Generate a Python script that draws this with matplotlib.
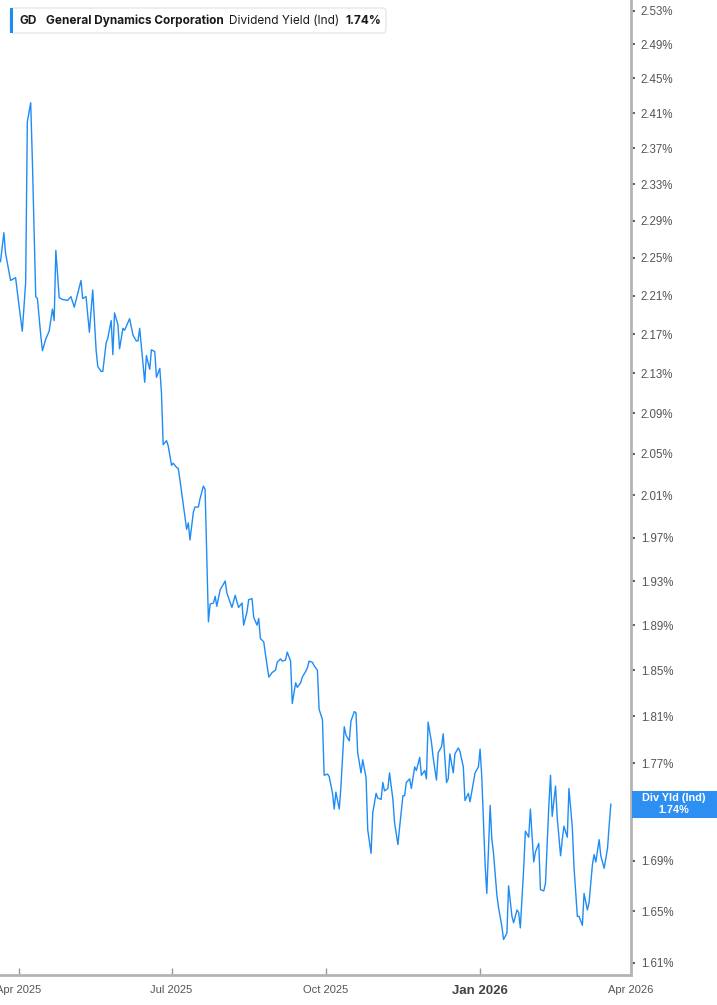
import pandas as pd
import matplotlib.pyplot as plt
import matplotlib.transforms as mtransforms
from matplotlib.patches import FancyBboxPatch, Rectangle
from matplotlib.ticker import FixedLocator, FuncFormatter, NullLocator

plt.rcParams['font.family'] = ['Liberation Sans', 'DejaVu Sans']

ticker = 'GD'
company = 'General Dynamics Corporation'
metric = 'Dividend Yield (Ind)'
last_label = '1.74%'
tag_label = 'Div Yld (Ind)'

dates = [
    '2025-03-21', '2025-03-23', '2025-03-24', '2025-03-27', '2025-03-30', '2025-04-01', '2025-04-03', '2025-04-05',
    '2025-04-06', '2025-04-08', '2025-04-09', '2025-04-11', '2025-04-12', '2025-04-14', '2025-04-15', '2025-04-17',
    '2025-04-19', '2025-04-21', '2025-04-22', '2025-04-23', '2025-04-25', '2025-04-27', '2025-04-30', '2025-05-02',
    '2025-05-04', '2025-05-08', '2025-05-09', '2025-05-11', '2025-05-13', '2025-05-15', '2025-05-17', '2025-05-18',
    '2025-05-20', '2025-05-21', '2025-05-23', '2025-05-24', '2025-05-26', '2025-05-27', '2025-05-28', '2025-05-30',
    '2025-05-31', '2025-06-02', '2025-06-03', '2025-06-06', '2025-06-08', '2025-06-10', '2025-06-11', '2025-06-12',
    '2025-06-15', '2025-06-16', '2025-06-18', '2025-06-19', '2025-06-21', '2025-06-22', '2025-06-24', '2025-06-25',
    '2025-06-26', '2025-06-28', '2025-06-29', '2025-07-01', '2025-07-02', '2025-07-04', '2025-07-05', '2025-07-06',
    '2025-07-08', '2025-07-10', '2025-07-11', '2025-07-12', '2025-07-14', '2025-07-15', '2025-07-17', '2025-07-18',
    '2025-07-20', '2025-07-21', '2025-07-23', '2025-07-24', '2025-07-26', '2025-07-27', '2025-07-28', '2025-07-30',
    '2025-08-02', '2025-08-03', '2025-08-06', '2025-08-08', '2025-08-09', '2025-08-10', '2025-08-12', '2025-08-13',
    '2025-08-15', '2025-08-16', '2025-08-18', '2025-08-19', '2025-08-21', '2025-08-22', '2025-08-23', '2025-08-25',
    '2025-08-26', '2025-08-28', '2025-08-30', '2025-09-01', '2025-09-02', '2025-09-04', '2025-09-05', '2025-09-07',
    '2025-09-08', '2025-09-10', '2025-09-11', '2025-09-13', '2025-09-14', '2025-09-16', '2025-09-17', '2025-09-19',
    '2025-09-20', '2025-09-21', '2025-09-23', '2025-09-24', '2025-09-26', '2025-09-27', '2025-09-29', '2025-09-30',
    '2025-10-02', '2025-10-03', '2025-10-05', '2025-10-06', '2025-10-07', '2025-10-09', '2025-10-10', '2025-10-12',
    '2025-10-13', '2025-10-15', '2025-10-16', '2025-10-18', '2025-10-19', '2025-10-20', '2025-10-22', '2025-10-23',
    '2025-10-25', '2025-10-26', '2025-10-28', '2025-10-29', '2025-10-31', '2025-11-01', '2025-11-03', '2025-11-04',
    '2025-11-05', '2025-11-07', '2025-11-08', '2025-11-10', '2025-11-11', '2025-11-13', '2025-11-14', '2025-11-16',
    '2025-11-17', '2025-11-18', '2025-11-20', '2025-11-21', '2025-11-23', '2025-11-24', '2025-11-26', '2025-11-27',
    '2025-11-29', '2025-11-30', '2025-12-01', '2025-12-03', '2025-12-04', '2025-12-06', '2025-12-07', '2025-12-09',
    '2025-12-10', '2025-12-12', '2025-12-13', '2025-12-14', '2025-12-16', '2025-12-17', '2025-12-19', '2025-12-20',
    '2025-12-22', '2025-12-23', '2025-12-25', '2025-12-26', '2025-12-28', '2025-12-29', '2025-12-31', '2026-01-01',
    '2026-01-02', '2026-01-04', '2026-01-05', '2026-01-07', '2026-01-08', '2026-01-09', '2026-01-11', '2026-01-12',
    '2026-01-14', '2026-01-15', '2026-01-17', '2026-01-18', '2026-01-20', '2026-01-21', '2026-01-23', '2026-01-24',
    '2026-01-25', '2026-01-27', '2026-01-28', '2026-01-30', '2026-01-31', '2026-02-02', '2026-02-03', '2026-02-05',
    '2026-02-06', '2026-02-08', '2026-02-09', '2026-02-11', '2026-02-12', '2026-02-13', '2026-02-15', '2026-02-16',
    '2026-02-18', '2026-02-19', '2026-02-20', '2026-02-22', '2026-02-23', '2026-02-25', '2026-02-26', '2026-02-28',
    '2026-03-01', '2026-03-03', '2026-03-04', '2026-03-06', '2026-03-07', '2026-03-09', '2026-03-10', '2026-03-11',
    '2026-03-13', '2026-03-14', '2026-03-16', '2026-03-18', '2026-03-19', '2026-03-20',
]

div_yield = [
    2.246, 2.277, 2.255, 2.226, 2.229, 2.200, 2.173, 2.224,
    2.400, 2.422, 2.357, 2.209, 2.207, 2.169, 2.153, 2.165,
    2.173, 2.196, 2.184, 2.258, 2.208, 2.206, 2.205, 2.209,
    2.198, 2.226, 2.207, 2.209, 2.172, 2.216, 2.154, 2.137,
    2.132, 2.132, 2.161, 2.166, 2.184, 2.149, 2.192, 2.180,
    2.155, 2.176, 2.174, 2.186, 2.169, 2.163, 2.163, 2.176,
    2.121, 2.148, 2.134, 2.154, 2.152, 2.126, 2.135, 2.110,
    2.059, 2.063, 2.058, 2.039, 2.041, 2.037, 2.036, 2.025,
    2.001, 1.978, 1.984, 1.968, 1.994, 1.999, 1.999, 2.007,
    2.019, 2.016, 1.893, 1.909, 1.910, 1.916, 1.907, 1.922,
    1.930, 1.919, 1.906, 1.917, 1.911, 1.906, 1.910, 1.890,
    1.902, 1.913, 1.914, 1.897, 1.890, 1.896, 1.878, 1.875,
    1.864, 1.844, 1.848, 1.850, 1.857, 1.860, 1.858, 1.859,
    1.866, 1.858, 1.821, 1.839, 1.835, 1.839, 1.844, 1.849,
    1.852, 1.858, 1.857, 1.854, 1.850, 1.816, 1.807, 1.760,
    1.761, 1.759, 1.745, 1.732, 1.746, 1.732, 1.750, 1.801,
    1.794, 1.789, 1.806, 1.814, 1.813, 1.779, 1.762, 1.773,
    1.758, 1.715, 1.696, 1.729, 1.745, 1.741, 1.740, 1.754,
    1.747, 1.749, 1.762, 1.740, 1.721, 1.703, 1.717, 1.743,
    1.743, 1.754, 1.757, 1.749, 1.767, 1.764, 1.775, 1.760,
    1.764, 1.757, 1.805, 1.788, 1.775, 1.756, 1.779, 1.784,
    1.795, 1.754, 1.757, 1.778, 1.762, 1.778, 1.783, 1.780,
    1.767, 1.739, 1.745, 1.738, 1.754, 1.762, 1.767, 1.782,
    1.759, 1.687, 1.664, 1.735, 1.708, 1.696, 1.663, 1.653,
    1.638, 1.628, 1.633, 1.670, 1.646, 1.641, 1.651, 1.649,
    1.637, 1.684, 1.714, 1.709, 1.732, 1.689, 1.697, 1.704,
    1.667, 1.666, 1.672, 1.735, 1.760, 1.726, 1.751, 1.725,
    1.694, 1.707, 1.718, 1.709, 1.749, 1.717, 1.685, 1.646,
    1.646, 1.639, 1.664, 1.651, 1.657, 1.687, 1.695, 1.689,
    1.707, 1.694, 1.684, 1.700, 1.719, 1.736,
]

tick_dates = ['2025-04-01', '2025-07-01', '2025-10-01', '2026-01-01', '2026-04-01']
tick_labels = ['Apr 2025', 'Jul 2025', 'Oct 2025', 'Jan 2026', 'Apr 2026']
y_ticks = [1.61, 1.65, 1.69, 1.73, 1.77, 1.81, 1.85, 1.89, 1.93, 1.97, 2.01, 2.05,
           2.09, 2.13, 2.17, 2.21, 2.25, 2.29, 2.33, 2.37, 2.41, 2.45, 2.49, 2.53]

LINE = '#1e8cf5'
TAG = '#2e8ff2'
AXIS = '#b4b4b4'
TXT = '#555555'


def header(fig):
    # legend-like header box in the top-left corner (pixel coords)
    W, H = fig.bbox.width, fig.bbox.height
    box = FancyBboxPatch((10 / W, 1 - 33 / H), 376 / W, 25 / H,
                         boxstyle='round,pad=0,rounding_size=0.004',
                         transform=fig.transFigure, facecolor='white',
                         edgecolor='#e2e2e2', linewidth=0.8, zorder=5)
    fig.patches.append(box)
    bar = Rectangle((10 / W, 1 - 33 / H), 3 / W, 25 / H, transform=fig.transFigure,
                    facecolor=LINE, edgecolor='none', zorder=6)
    fig.patches.append(bar)
    yy = 1 - 21 / H
    for x, t, w in [(20, ticker, 'bold'), (46, company, 'bold'),
                    (229, metric, 'normal'), (345, last_label, 'bold')]:
        fig.text(x / W, yy, t, fontsize=8.5, fontweight=w, color='#1a1a1a',
                 family=['Inter', 'DejaVu Sans'], va='center', ha='left', zorder=7)


def main():
    d = pd.to_datetime(dates)
    fig = plt.figure(figsize=(7.17, 10.05), dpi=100)
    ax = fig.add_axes([0, 30 / 1005, 631 / 717, 975 / 1005])

    ax.plot(d, div_yield, color=LINE, lw=1.0)

    ax.set_yscale('log')
    ax.set_ylim(1.6008, 2.543)
    ax.set_xlim(pd.Timestamp('2025-04-01') - pd.Timedelta(days=11.3), pd.Timestamp('2026-04-01'))

    ax.yaxis.tick_right()
    ax.yaxis.set_major_locator(FixedLocator(y_ticks))
    ax.yaxis.set_minor_locator(NullLocator())
    ax.yaxis.set_major_formatter(FuncFormatter(lambda v, p: '{:.2f}%'.format(v)))
    ax.tick_params(axis='y', direction='out', length=3, width=1.5, color='#666666',
                   labelsize=8.3, labelcolor=TXT, pad=4)

    ax.set_xticks(pd.to_datetime(tick_dates))
    ax.set_xticklabels(tick_labels)
    ax.tick_params(axis='x', direction='in', length=5, width=1, color='#999999',
                   labelsize=8, labelcolor=TXT, pad=7)
    for lab in ax.get_xticklabels():
        if lab.get_text() == 'Jan 2026':
            lab.set_fontweight('bold')
            lab.set_fontsize(9.5)
            lab.set_color('#444444')

    for s in ['top', 'left']:
        ax.spines[s].set_visible(False)
    for s in ['right', 'bottom']:
        ax.spines[s].set_color(AXIS)
        ax.spines[s].set_linewidth(2)

    # last value tag on the right axis: x in axes fraction, y in data
    trans = mtransforms.blended_transform_factory(ax.transAxes, ax.transData)
    last = div_yield[-1]
    half = 1.00643
    tag = Rectangle((1.0 + 1 / 631, last / half), 86 / 631, last * half - last / half,
                    transform=trans, facecolor=TAG, edgecolor='none', clip_on=False, zorder=10)
    ax.add_patch(tag)
    ax.text(1.0 + 43 / 631, last, tag_label + '\n' + last_label, transform=trans,
            ha='center', va='center', fontsize=7.8, fontweight='bold', color='white',
            linespacing=1.3, clip_on=False, zorder=11)

    header(fig)
    fig.savefig('out.png', dpi=100, facecolor='white')


if __name__ == '__main__':
    main()
